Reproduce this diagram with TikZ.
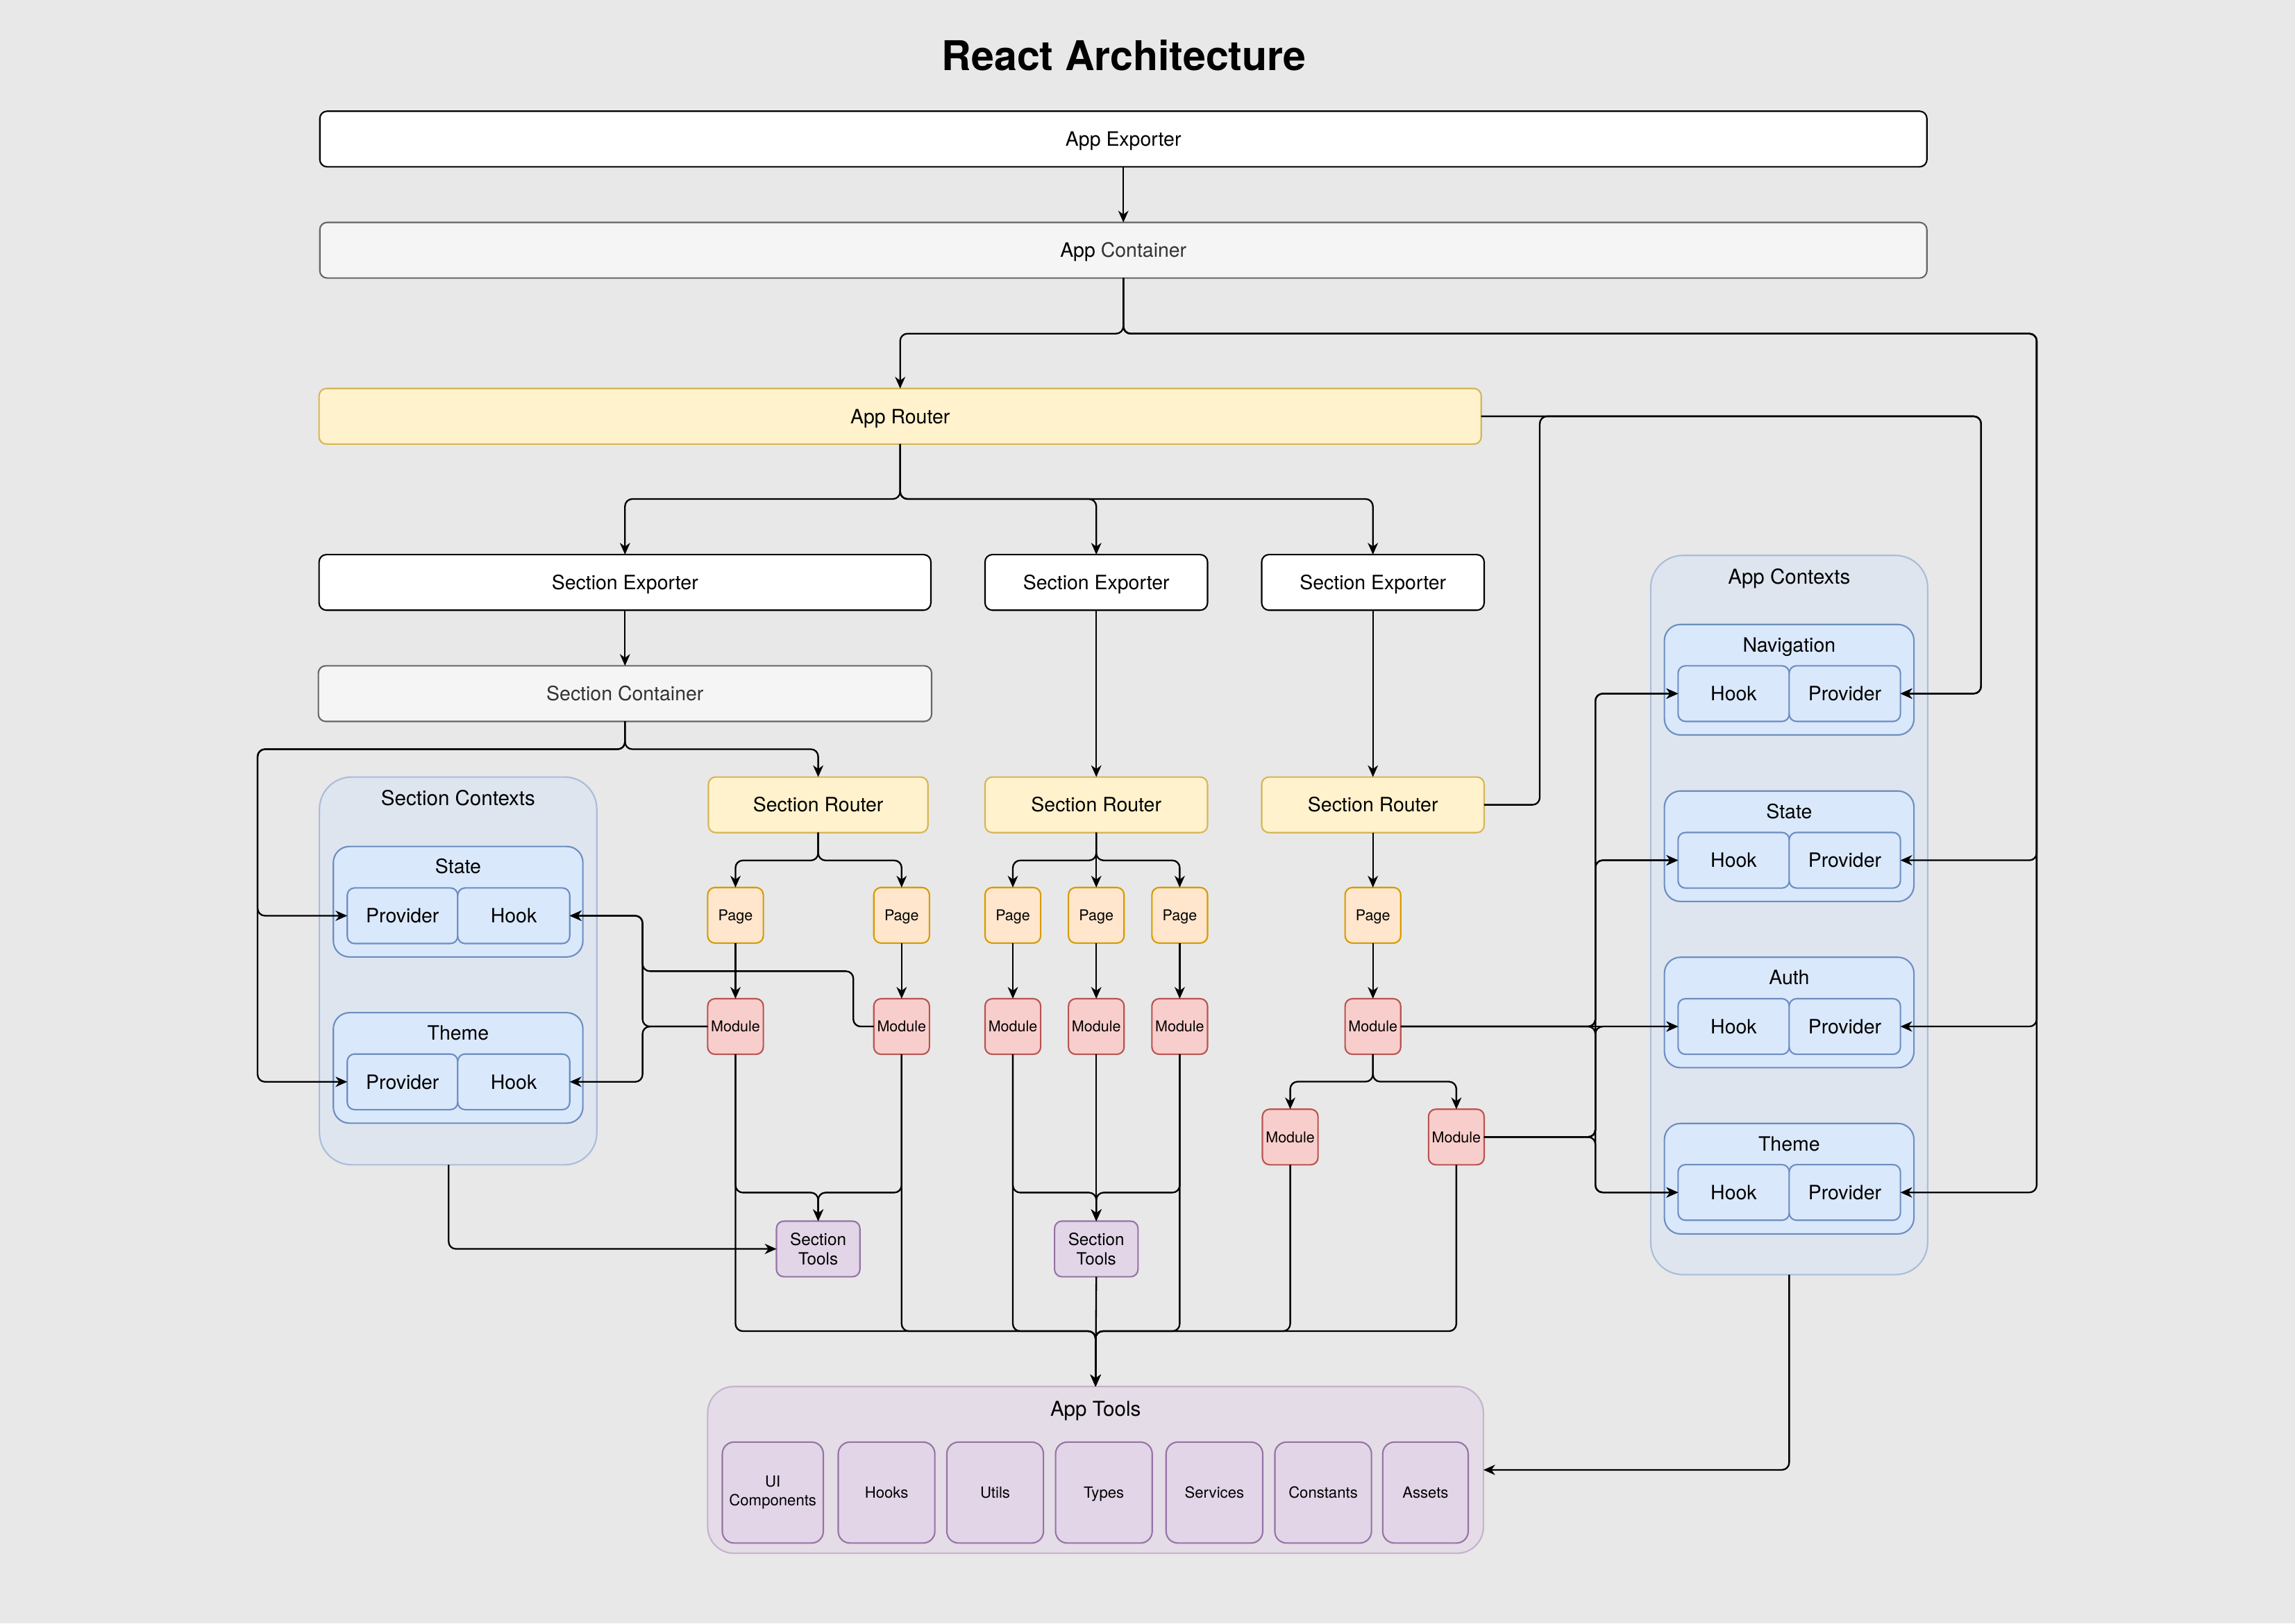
\documentclass[tikz,border=0pt]{standalone}
\usepackage{fontspec}
\setmainfont{TeX Gyre Heros}
\usetikzlibrary{arrows.meta,calc}
\definecolor{cBg}{HTML}{E8E8E8}
\definecolor{cGf}{HTML}{F5F5F5}
\definecolor{cGd}{HTML}{666666}
\definecolor{cGt}{HTML}{333333}
\definecolor{cYf}{HTML}{FFF2CC}
\definecolor{cYd}{HTML}{D6B656}
\definecolor{cPf}{HTML}{FFE6CC}
\definecolor{cPd}{HTML}{D79B00}
\definecolor{cMf}{HTML}{F8CECC}
\definecolor{cMd}{HTML}{B85450}
\definecolor{cVf}{HTML}{E1D5E7}
\definecolor{cVd}{HTML}{9673A6}
\definecolor{cBf}{HTML}{DAE8FC}
\definecolor{cBd}{HTML}{6C8EBF}
\definecolor{cBGf}{HTML}{DEE5EF}
\definecolor{cBGd}{HTML}{A9BDDA}
\definecolor{cVGf}{HTML}{E4DCE6}
\definecolor{cVGd}{HTML}{C5B3CD}
\newcommand{\fsz}[2]{\fontsize{#1}{#2}\selectfont}
\begin{document}
\begin{tikzpicture}[x=1pt,y=-1pt,
  every node/.style={inner sep=1pt, outer sep=0pt},
  mbase/.style={rounded corners=5pt, line width=1pt, align=center, font=\fsz{13.5}{16}},
  nbox/.style={mbase, text height=9.72pt, text depth=0pt},
  wbox/.style={nbox, fill=white, draw=black, minimum height=38pt},
  gbox/.style={nbox, fill=cGf, draw=cGd, text=cGt, minimum height=38pt},
  ybox/.style={nbox, fill=cYf, draw=cYd, minimum height=38pt},
  pbox/.style={nbox, fill=cPf, draw=cPd, minimum width=38pt, minimum height=38pt, font=\fsz{10.2}{12}, text height=7.35pt},
  mbox/.style={nbox, fill=cMf, draw=cMd, minimum width=38pt, minimum height=38pt, font=\fsz{10.2}{12}, text height=7.35pt},
  tbox/.style={mbase, fill=cVf, draw=cVd, minimum width=57pt, minimum height=38pt, font=\fsz{11.5}{13.5}},
  ibase/.style={rounded corners=8pt, fill=cVf, draw=cVd, minimum height=69pt, font=\fsz{10.5}{13}},
  ibox/.style={nbox, ibase, text height=7.56pt},
  iboxm/.style={mbase, ibase},
  hbox/.style={nbox, fill=cBf, draw=cBd, minimum height=38pt},
  bgrp/.style={rounded corners=22pt, fill=cBGf, draw=cBGd, line width=1pt},
  vgrp/.style={rounded corners=18pt, fill=cVGf, draw=cVGd, line width=1pt},
  binner/.style={rounded corners=11pt, fill=cBf, draw=cBd, line width=1pt, minimum width=170.5pt, minimum height=75.5pt},
  ttl/.style={font=\fsz{14}{17}, text height=10.08pt, text depth=0pt},
  sttl/.style={font=\fsz{13.5}{16}, text height=9.72pt, text depth=0pt},
  conn/.style={line width=1.1pt, rounded corners=5pt, -{Stealth[length=8pt,width=7pt,inset=2.5pt]}}
]
\fill[cBg] (0,0) rectangle (1568,1109.37);
\useasboundingbox (0,0) rectangle (1568,1109.37);

% routing levels
\coordinate (r1) at (0,228);
\coordinate (r2) at (0,341);
\coordinate (r3) at (0,512);
\coordinate (r4) at (0,588);
\coordinate (r5) at (0,739.2);
\coordinate (r6) at (0,815);
\coordinate (r7) at (0,909.7);
\coordinate (xL) at (176,0);
\coordinate (xH) at (439,0);
\coordinate (xM2) at (583,663.7);
\coordinate (xR) at (1391.5,0);
\coordinate (xN) at (1353.5,0);
\coordinate (xS3) at (1052,284.5);
\coordinate (xA) at (1090,0);
\coordinate (xSC) at (306.5,0);

% title
\node[font=\fsz{28}{32}\bfseries, text height=20.2pt, text depth=0pt] (title) at (768,38) {React Architecture};

% top chain
\node[wbox, minimum width=1098pt] (appexp) at (767.5,95) {App Exporter};
\node[gbox, minimum width=1098pt] (appcont) at (767.5,171) {{\color{black}App} Container};
\node[ybox, minimum width=794pt] (approuter) at (615,284.5) {App Router};

\node[wbox, minimum width=418pt] (se1) at (427,398) {Section Exporter};
\node[wbox, minimum width=152pt] (se2) at (749,398) {Section Exporter};
\node[wbox, minimum width=152pt] (se3) at (938,398) {Section Exporter};
\node[gbox, minimum width=419pt] (seccont) at (427,474) {Section Container};

\node[ybox, minimum width=150pt] (sr1) at (559,550) {Section Router};
\node[ybox, minimum width=152pt] (sr2) at (749,550) {Section Router};
\node[ybox, minimum width=152pt] (sr3) at (938,550) {Section Router};

% pages and modules
\node[pbox] (p1) at (502.5,625.5) {Page};
\node[pbox] (p2) at (616,625.5) {Page};
\node[pbox] (p3) at (692,625.5) {Page};
\node[pbox] (p4) at (749,625.5) {Page};
\node[pbox] (p5) at (806,625.5) {Page};
\node[pbox] (p6) at (938,625.5) {Page};
\node[mbox] (m1) at (502.5,701.5) {Module};
\node[mbox] (m2) at (616,701.5) {Module};
\node[mbox] (m3) at (692,701.5) {Module};
\node[mbox] (m4) at (749,701.5) {Module};
\node[mbox] (m5) at (806,701.5) {Module};
\node[mbox] (m6) at (938,701.5) {Module};
\node[mbox] (m7) at (881.5,777) {Module};
\node[mbox] (m8) at (995,777) {Module};

\node[tbox] (st1) at (559,853.5) {Section\\Tools};
\node[tbox] (st2) at (749,853.5) {Section\\Tools};

% section contexts
\node[bgrp, minimum width=189.5pt, minimum height=265pt] (scgroup) at (313,663.5) {};
\node[ttl] (sctitle) at (313,545.5) {Section Contexts};
\node[binner] (scstate) at (313,616.2) {};
\node[sttl] (scstatet) at (313,592.2) {State};
\node[hbox, minimum width=75.5pt] (scsprov) at (275,625.8) {Provider};
\node[hbox, minimum width=76.5pt] (scshook) at (351,625.8) {Hook};
\node[binner] (sctheme) at (313,729.8) {};
\node[sttl] (scthemet) at (313,706) {Theme};
\node[hbox, minimum width=75.5pt] (sctprov) at (275,739.3) {Provider};
\node[hbox, minimum width=76.5pt] (scthook) at (351,739.3) {Hook};

% app contexts
\node[bgrp, minimum width=189.2pt, minimum height=491.5pt] (acgroup) at (1222.4,625.3) {};
\node[ttl] (actitle) at (1222.4,394.2) {App Contexts};
\node[binner] (acnav) at (1222.4,464.5) {};
\node[sttl] (acnavt) at (1222.4,440.6) {Navigation};
\node[hbox, minimum width=76pt] (acnhook) at (1184.5,474) {Hook};
\node[hbox, minimum width=76pt] (acnprov) at (1260.4,474) {Provider};
\node[binner] (acstate) at (1222.4,578.3) {};
\node[sttl] (acstatet) at (1222.4,554.6) {State};
\node[hbox, minimum width=76pt] (acshook) at (1184.5,587.9) {Hook};
\node[hbox, minimum width=76pt] (acsprov) at (1260.4,587.9) {Provider};
\node[binner] (acauth) at (1222.4,691.9) {};
\node[sttl] (acautht) at (1222.4,667.9) {Auth};
\node[hbox, minimum width=76pt] (acahook) at (1184.5,701.5) {Hook};
\node[hbox, minimum width=76pt] (acaprov) at (1260.4,701.5) {Provider};
\node[binner] (actheme) at (1222.4,805.5) {};
\node[sttl] (acthemet) at (1222.4,781.5) {Theme};
\node[hbox, minimum width=76pt] (acthook) at (1184.5,814.9) {Hook};
\node[hbox, minimum width=76pt] (actprov) at (1260.4,814.9) {Provider};

% app tools
\node[vgrp, minimum width=530pt, minimum height=114pt] (apptools) at (748.5,1004.5) {};
\node[ttl] (attitle) at (748.5,962.5) {App Tools};
\node[iboxm, minimum width=69pt] (ui) at (528,1020) {UI\\Components};
\node[ibox, minimum width=66pt] (hooks) at (605.7,1020) {Hooks};
\node[ibox, minimum width=66pt] (utils) at (679.9,1020) {Utils};
\node[ibox, minimum width=66pt] (types) at (754.2,1020) {Types};
\node[ibox, minimum width=66pt] (services) at (829.7,1020) {Services};
\node[ibox, minimum width=66pt] (constants) at (904,1020) {Constants};
\node[ibox, minimum width=58.4pt] (assets) at (973.9,1020) {Assets};

% ---------- connectors ----------
\draw[conn] (appexp.south) -- (appcont.north);
\draw[conn] (appcont.south) |- (approuter.north |- r1) -- (approuter.north);
\draw[conn] (appcont.south) |- (xR |- r1) |- (acsprov.east);
\draw[conn] (appcont.south) |- (xR |- r1) |- (acaprov.east);
\draw[conn] (appcont.south) |- (xR |- r1) |- (actprov.east);
\draw[conn] (approuter.east) -| (xN |- acnprov.east) -- (acnprov.east);
\draw[conn] (sr3.east) -| (xS3) -| (xN |- acnprov.east) -- (acnprov.east);

\draw[conn] (approuter.south) |- (se1.north |- r2) -- (se1.north);
\draw[conn] (approuter.south) |- (se2.north |- r2) -- (se2.north);
\draw[conn] (approuter.south) |- (se3.north |- r2) -- (se3.north);
\draw[conn] (se1.south) -- (seccont.north);
\draw[conn] (se2.south) -- (sr2.north);
\draw[conn] (se3.south) -- (sr3.north);

\draw[conn] (seccont.south) |- (sr1.north |- r3) -- (sr1.north);
\draw[conn] (seccont.south) |- (xL |- r3) |- (scsprov.west);
\draw[conn] (seccont.south) |- (xL |- r3) |- (sctprov.west);

\draw[conn] (sr1.south) |- (p1.north |- r4) -- (p1.north);
\draw[conn] (sr1.south) |- (p2.north |- r4) -- (p2.north);
\draw[conn] (sr2.south) |- (p3.north |- r4) -- (p3.north);
\draw[conn] (sr2.south) -- (p4.north);
\draw[conn] (sr2.south) |- (p5.north |- r4) -- (p5.north);
\draw[conn] (sr3.south) -- (p6.north);

\foreach \i in {1,...,6}{\draw[conn] (p\i.south) -- (m\i.north);}
\draw[conn] (m6.south) |- (m7.north |- r5) -- (m7.north);
\draw[conn] (m6.south) |- (m8.north |- r5) -- (m8.north);

\draw[conn] (m1.west) -| (xH |- scshook.east) -- (scshook.east);
\draw[conn] (m1.west) -| (xH |- scthook.east) -- (scthook.east);
\draw[conn] (m2.west) -| (xM2) -| (xH |- scshook.east) -- (scshook.east);

\draw[conn] (m1.south) |- (st1.north |- r6) -- (st1.north);
\draw[conn] (m2.south) |- (st1.north |- r6) -- (st1.north);
\draw[conn] (m3.south) |- (st2.north |- r6) -- (st2.north);
\draw[conn] (m4.south) -- (st2.north);
\draw[conn] (m5.south) |- (st2.north |- r6) -- (st2.north);
\draw[conn] (xSC |- scgroup.south) |- (st1.west);

\draw[conn] (st2.south) -- (apptools.north);
\foreach \m in {m1,m2,m3,m5,m7,m8}{\draw[conn] (\m.south) |- (apptools.north |- r7) -- (apptools.north);}

\draw[conn] (m6.east) -| (xA |- acnhook.west) -- (acnhook.west);
\draw[conn] (m6.east) -| (xA |- acshook.west) -- (acshook.west);
\draw[conn] (m6.east) -- (acahook.west);
\draw[conn] (m6.east) -| (xA |- acthook.west) -- (acthook.west);
\draw[conn] (m8.east) -| (xA |- acnhook.west) -- (acnhook.west);
\draw[conn] (m8.east) -| (xA |- acshook.west) -- (acshook.west);
\draw[conn] (m8.east) -| (xA |- acahook.west) -- (acahook.west);
\draw[conn] (m8.east) -| (xA |- acthook.west) -- (acthook.west);

\draw[conn] (acgroup.south) |- (apptools.east);
\end{tikzpicture}
\end{document}
